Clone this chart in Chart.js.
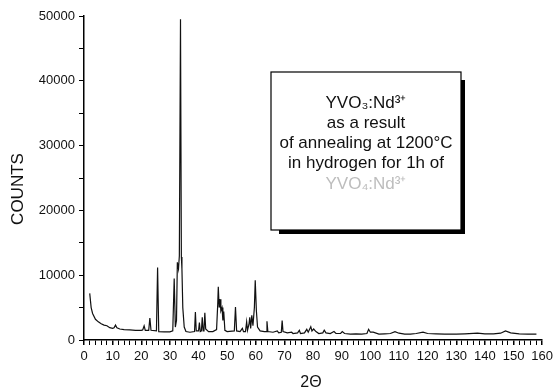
<!DOCTYPE html>
<html lang="en">
<head>
<meta charset="UTF-8">
<title>XRD pattern</title>
<script src="https://cdn.jsdelivr.net/npm/chart.js@4.4.1/dist/chart.umd.min.js"></script>
<style>
  body { margin: 0; background: #fff; }
  #wrap { width: 557px; height: 391px; }
</style>
</head>
<body>
<div id="wrap"><canvas id="xrd" width="557" height="391"></canvas></div>
<script>
// 2theta positions (deg) and counts
var angles = [
  2.0, 2.5, 3.0, 4.0, 5.0, 6.0, 7.0, 8.0, 9.0, 10.0, 10.5, 11.0, 11.5, 12.5, 14, 16, 18, 20,
  20.5, 21.0, 21.4, 22.6, 23.0, 23.4, 25.3, 25.7, 26.1, 28, 30, 31.0, 31.5, 31.9,
  32.3, 32.6, 33.0, 33.3, 33.7, 34.0, 34.2, 34.5, 35.0, 35.6, 37, 38.6, 38.9, 39.2,
  40.0, 40.3, 40.6, 41.0, 41.3, 41.6, 41.9, 42.2, 42.5, 43.5, 45, 46.3, 46.7, 46.9,
  47.2, 47.5, 47.8, 48.2, 48.5, 48.8, 49.2, 50, 52.5, 52.9, 53.3, 54.5, 55.3, 55.7,
  56.4, 56.8, 57.1, 57.6, 57.9, 58.2, 58.6, 59.0, 59.5, 59.8, 60.2, 60.6, 61.5, 63,
  63.6, 63.9, 64.2, 66, 67.5, 68, 68.9, 69.2, 69.5, 71, 72.5, 73, 74.6, 75.2, 75.6,
  77, 77.8, 78.3, 79.2, 79.6, 80.2, 81, 82, 83.4, 83.9, 84.5, 86, 87.3, 88, 89.6,
  90.2, 91, 93, 95, 97, 98.8, 99.4, 100, 101, 103, 105, 107, 108.6, 110, 112, 114,
  116, 118.4, 120, 123, 126, 130, 133, 137.4, 140, 143, 145.5, 147.2, 149, 152, 155, 158
];
var counts = [
  7200, 5000, 4100, 3200, 2800, 2500, 2300, 2200, 1900, 1800, 1900, 2300, 1900, 1700, 1600, 1550, 1500, 1500,
  1550, 2200, 1500, 1500, 3400, 1500, 1400, 11200, 1300, 1250, 1250, 1400, 9500, 2000,
  3000, 12000, 11000, 13000, 49500, 12800, 11000, 5000, 2000, 1300, 1200, 1300, 4300, 1400,
  1400, 2700, 1300, 1400, 3500, 1400, 1500, 4200, 1700, 1300, 1300, 1600, 5500, 8200,
  5000, 6300, 4500, 5000, 3000, 4400, 1500, 1300, 1400, 5100, 1400, 1300, 1800, 1300,
  1300, 2800, 1500, 2400, 3500, 1800, 3800, 2200, 5000, 9200, 4500, 2000, 1400, 1300,
  1300, 2900, 1300, 1200, 1400, 1100, 1200, 3000, 1300, 1100, 1200, 1000, 1100, 1500, 1000,
  1100, 1650, 1200, 2050, 1400, 1700, 1300, 1000, 1100, 1500, 1100, 1000, 1300, 1000, 1000,
  1300, 1000, 900, 950, 900, 1000, 1650, 1200, 1200, 900, 950, 1000, 1300, 1050, 900, 900,
  1000, 1200, 1000, 950, 900, 900, 950, 1050, 950, 950, 1050, 1400, 1100, 950, 900, 900
];
var boxLines = ['YVO\u2083:Nd\u00b3\u207a', 'as a result', 'of annealing at 1200\u00b0C', 'in hydrogen for 1h of', 'YVO\u2084:Nd\u00b3\u207a'];
var xTitle = '2\u0398';
var yTitle = 'COUNTS';

var pts = [];
for (var i = 0; i < angles.length; i++) {
  pts.push({x: angles[i], y: counts[i]});
}
var FONT = '"Liberation Sans", Arial, sans-serif';

// note box + axis titles
var boxPlugin = {
  id: 'noteBox',
  afterDraw: function(chart) {
    var c = chart.ctx;
    var x0 = 271, y0 = 72, w = 190, h = 158;
    c.save();
    c.fillStyle = '#000';
    c.fillRect(x0 + 8, y0 + h, w - 4, 4);
    c.fillRect(x0 + w, y0 + 8, 4, h - 4);
    c.fillStyle = '#fff';
    c.fillRect(x0, y0, w, h);
    c.strokeStyle = '#000';
    c.lineWidth = 1.2;
    c.strokeRect(x0, y0, w, h);
    c.font = '17px ' + FONT;
    c.textAlign = 'center';
    c.textBaseline = 'middle';
    var ys = [103, 123, 143, 163, 184];
    for (var k = 0; k < boxLines.length; k++) {
      c.fillStyle = k === 4 ? '#bdbdbd' : '#111';
      c.fillText(boxLines[k], x0 + w / 2, ys[k]);
    }
    // axis titles
    c.fillStyle = '#111';
    c.font = '16px ' + FONT;
    c.fillText(xTitle, 311, 383);
    c.translate(18, 189);
    c.rotate(-Math.PI / 2);
    c.font = '17px ' + FONT;
    c.fillText(yTitle, 0, 0);
    c.restore();
  }
};

var ctx = document.getElementById('xrd').getContext('2d');
var chart = new Chart(ctx, {
  type: 'line',
  data: {
    datasets: [{
      data: pts,
      borderColor: '#111',
      borderWidth: 1.2,
      pointRadius: 0,
      tension: 0,
      fill: false
    }]
  },
  plugins: [boxPlugin],
  options: {
    responsive: false,
    animation: false,
    layout: { padding: { left: 0, right: 10, top: 16, bottom: 0 } },
    plugins: { legend: { display: false }, tooltip: { enabled: false } },
    scales: {
      x: {
        type: 'linear',
        min: 0, max: 160,
        afterFit: function(s) { s.height = 51; },
        border: { color: '#000', width: 1.5 },
        grid: {
          drawOnChartArea: false,
          tickLength: 5,
          color: '#000',
          lineWidth: function(c) { return c.tick && c.tick.value % 10 === 0 ? 1.5 : 1; }
        },
        ticks: {
          stepSize: 2,
          autoSkip: false,
          maxRotation: 0,
          padding: 4,
          color: '#111',
          font: { family: FONT, size: 13 },
          callback: function(v) { return v % 10 === 0 ? String(v) : ''; }
        }
      },
      y: {
        min: 0, max: 50000,
        afterFit: function(s) { s.width = 84; },
        border: { color: '#000', width: 1.5 },
        grid: {
          drawOnChartArea: false,
          tickLength: 5,
          color: '#000'
        },
        ticks: {
          stepSize: 5000,
          autoSkip: false,
          padding: 4,
          color: '#111',
          font: { family: FONT, size: 13 },
          callback: function(v) { return v % 10000 === 0 ? String(v) : ''; }
        }
      }
    }
  }
});
</script>
</body>
</html>
